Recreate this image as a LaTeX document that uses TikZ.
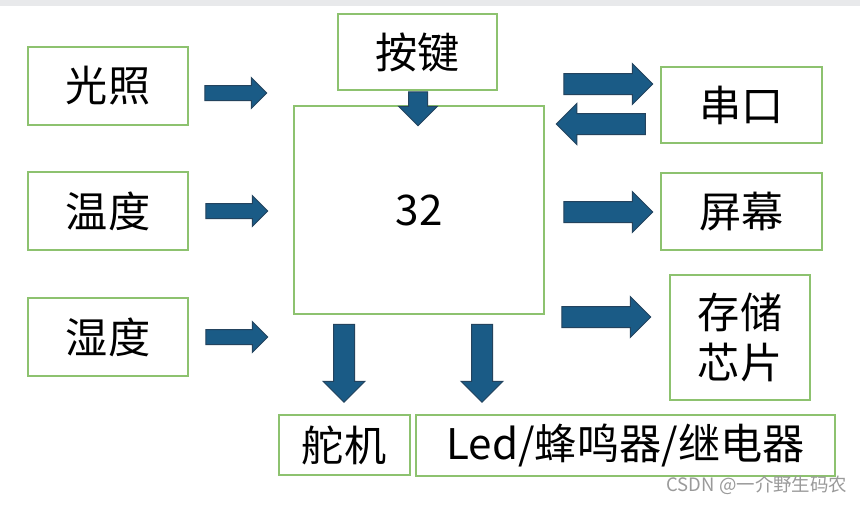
\documentclass[tikz,border=0pt]{standalone}
\usepackage{fontspec}
\newfontfamily\cjk{Noto Sans CJK SC}
\usepackage{xcolor}
\usetikzlibrary{shapes.arrows}
\definecolor{boxgreen}{HTML}{8DC26F}
\definecolor{arrowblue}{HTML}{1A5B86}
\definecolor{arrowedge}{HTML}{23435E}
\definecolor{topgrey}{HTML}{E8E9EB}
\definecolor{markgrey}{HTML}{9A9A9A}

\begin{document}
\begin{tikzpicture}[x=0.2mm,y=-0.2mm,
  box/.style={draw=boxgreen,line width=0.4mm,inner sep=0pt,align=center,
    font=\cjk\fontsize{24}{28}\selectfont},
  blk/.style={single arrow,fill=arrowblue,draw=arrowedge,line width=0.2mm,
    inner xsep=0pt,outer sep=0pt},
  smallblk/.style={blk,inner ysep=1.4mm,minimum height=12.4mm,single arrow head extend=1.6mm},
  bigblk/.style={blk,inner ysep=2mm,minimum height=17.8mm,single arrow head extend=2mm},
  downblk/.style={blk,inner ysep=2mm,minimum height=15.6mm,single arrow head extend=2.1mm,rotate=-90}]
\fill[white] (0,0) rectangle (860,504);
\fill[topgrey] (0,0) rectangle (860,6);
\useasboundingbox (0,0) rectangle (860,504);

\node[box,minimum width=32mm,minimum height=15.6mm] (guangzhao) at (108,86) {光照};
\node[box,minimum width=32mm,minimum height=15.6mm] (wendu) at (108,211) {温度};
\node[box,minimum width=32mm,minimum height=15.6mm] (shidu) at (108,337) {湿度};
\node[box,minimum width=31.8mm,minimum height=15.2mm] (anjian) at (417.5,52) {按键};
\node[box,minimum width=50mm,minimum height=41.6mm] (mcu) at (419,210) {32};
\node[box,minimum width=32.2mm,minimum height=15.2mm] (chuankou) at (741.5,105) {串口};
\node[box,minimum width=32.2mm,minimum height=15.4mm] (pingmu) at (741.5,211.5) {屏幕};
\node[box,minimum width=28mm,minimum height=25mm] (cunchu) at (740,337.5) {存储\\芯片};
\node[box,minimum width=26.2mm,minimum height=12mm] (duoji) at (344,445) {舵机};
\node[box,minimum width=83.8mm,minimum height=12.2mm] (led) at (625.5,445) {Led/蜂鸣器/继电器};

\node[smallblk] (gzarrow) at (232,93) {};
\node[smallblk] (wdarrow) at (233,211) {};
\node[smallblk] (sdarrow) at (233,337) {};
\node[blk,inner ysep=1.8mm,minimum height=6.8mm,single arrow head extend=2mm,rotate=-90] (ajarrow) at (418,104) {};
\node[bigblk] (txarrow) at (603,84) {};
\node[bigblk,rotate=180] (rxarrow) at (606,124) {};
\node[bigblk] (pmarrow) at (603,212) {};
\node[bigblk] (ccarrow) at (601,317) {};
\node[downblk] (djarrow) at (344,358) {};
\node[downblk] (ledarrow) at (482,358) {};

\node[font=\cjk\fontsize{10.5}{12}\selectfont,text=markgrey] (mark) at (757,485) {CSDN @一介野生码农};
\end{tikzpicture}
\end{document}
